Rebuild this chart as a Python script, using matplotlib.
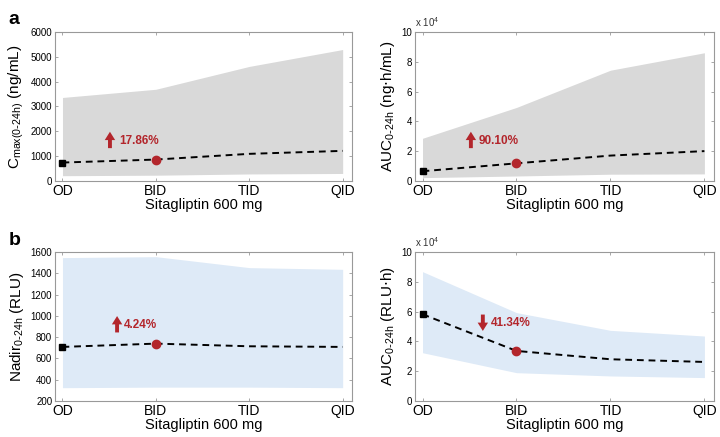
import numpy as np
import matplotlib.pyplot as plt

plt.rcParams['font.family'] = ['Liberation Sans', 'DejaVu Sans']

# Regimes
regimes = ['OD', 'BID', 'TID', 'QID']
xpos = np.arange(1, 5)

# Cmax (ng/mL): median with 5-95% band
cmax_med = [740, 860, 1090, 1210]
cmax_lo = [210, 230, 280, 300]
cmax_hi = [3360, 3690, 4610, 5290]

# AUC PK (x1e4 ng.h/mL)
aucpk_med = [0.65, 1.18, 1.70, 2.00]
aucpk_lo = [0.22, 0.33, 0.45, 0.47]
aucpk_hi = [2.86, 4.93, 7.43, 8.60]

# Nadir (RLU)
nadir_med = [708, 739, 714, 708]
nadir_lo = [325, 330, 330, 325]
nadir_hi = [1547, 1556, 1453, 1437]

# AUC PD (x1e4 RLU.h)
aucpd_med = [5.82, 3.36, 2.80, 2.62]
aucpd_lo = [3.24, 1.90, 1.68, 1.57]
aucpd_hi = [8.68, 5.93, 4.74, 4.36]

gray = '#d9d9d9'
blue = '#deeaf7'
red = '#b3262c'

fig = plt.figure(figsize=(7.2, 4.37), dpi=100)

panels = [
    # rect, med, lo, hi, fill, ylim, yticks, ylabel, pct, arrow x, arrow y0, arrow y1, text x, text y, sci
    ([0.0764, 0.586, 0.4125, 0.341], cmax_med, cmax_lo, cmax_hi, gray, (0, 6000),
     np.arange(0, 6001, 1000), r'C$_{\mathregular{max(0\text{-}24h)}}$ (ng/mL)',
     '17.86%', 0.185, 0.22, 0.33, 0.215, 0.27, False),
    ([0.5764, 0.586, 0.415, 0.341], aucpk_med, aucpk_lo, aucpk_hi, gray, (0, 10),
     np.arange(0, 11, 2), r'AUC$_{\mathregular{0\text{-}24h}}$ (ng$\cdot$h/mL)',
     '90.10%', 0.187, 0.22, 0.33, 0.214, 0.27, True),
    ([0.0764, 0.0824, 0.4125, 0.341], nadir_med, nadir_lo, nadir_hi, blue, (200, 1600),
     np.arange(200, 1601, 200), r'Nadir$_{\mathregular{0\text{-}24h}}$ (RLU)',
     '4.24%', 0.209, 0.46, 0.57, 0.232, 0.51, False),
    ([0.5764, 0.0824, 0.415, 0.341], aucpd_med, aucpd_lo, aucpd_hi, blue, (0, 10),
     np.arange(0, 11, 2), r'AUC$_{\mathregular{0\text{-}24h}}$ (RLU$\cdot$h)',
     '41.34%', 0.227, 0.58, 0.47, 0.254, 0.525, True),
]

for (rect, med, lo, hi, fc, ylim, yticks, ylabel, pct,
     ax_x, ay0, ay1, tx, ty, sci) in panels:
    ax = fig.add_axes(rect)
    ax.fill_between(xpos, lo, hi, color=fc, lw=0, zorder=1)
    ax.plot(xpos, med, color='black', ls=(0, (3.5, 2.5)), lw=1.4, zorder=2)
    ax.plot(xpos[0], med[0], 's', color='black', ms=5, zorder=3)
    ax.plot(xpos[1], med[1], 'o', color=red, ms=6, zorder=3)
    ax.set_xlim(0.92, 4.1)
    ax.set_ylim(*ylim)
    ax.set_xticks(xpos)
    ax.set_xticklabels(regimes, fontsize=10)
    ax.set_yticks(yticks)
    ax.tick_params(axis='y', labelsize=7)
    ax.tick_params(direction='in', top=True, right=True, length=2.5,
                   width=0.6, color='#999999', pad=2)
    for s in ax.spines.values():
        s.set_color('#999999')
        s.set_linewidth(0.8)
    ax.set_xlabel('Sitagliptin 600 mg', fontsize=10.5, labelpad=0)
    ax.set_ylabel(ylabel, fontsize=11, labelpad=3)
    if sci:
        ax.text(0.0, 1.02, r'x 10$^{\mathregular{4}}$', transform=ax.transAxes,
                fontsize=7, ha='left', va='bottom', color='#333333')
    ax.annotate('', xy=(ax_x, ay1), xytext=(ax_x, ay0), xycoords='axes fraction',
                arrowprops=dict(arrowstyle='simple,head_width=0.75,head_length=0.6,tail_width=0.28',
                                fc=red, ec='none', shrinkA=0, shrinkB=0))
    ax.text(tx, ty, pct, transform=ax.transAxes, fontsize=8.5, fontweight='bold',
            color=red, ha='left', va='center')

fig.text(0.012, 0.975, 'a', fontsize=14, fontweight='bold', va='top')
fig.text(0.012, 0.47, 'b', fontsize=14, fontweight='bold', va='top')

fig.savefig('out.png', dpi=100)
